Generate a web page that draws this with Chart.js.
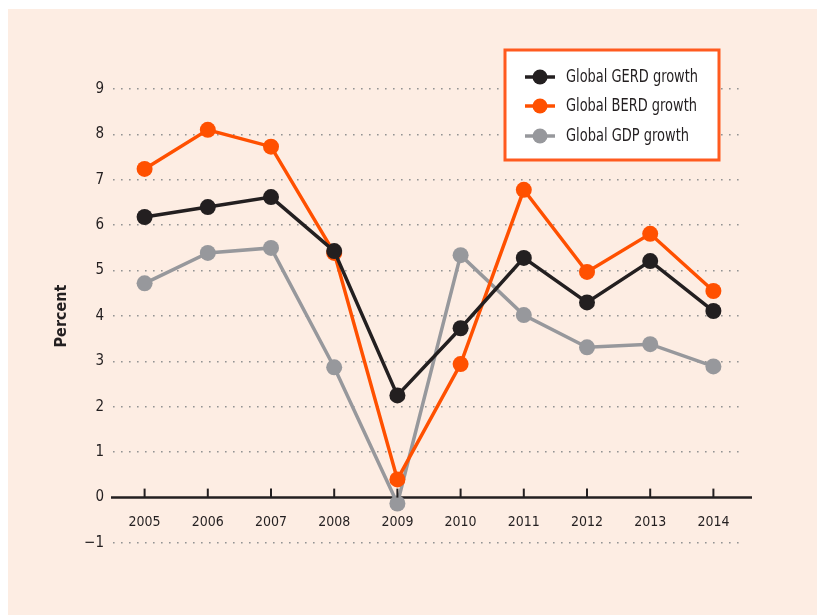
<!DOCTYPE html>
<html>
<head>
<meta charset="utf-8">
<script src="https://cdn.jsdelivr.net/npm/chart.js@4"></script>
<style>
  html, body { margin: 0; padding: 0; background: #fff; }
  #wrap { position: absolute; left: 8px; top: 9px; width: 809px; height: 606px; background: #fdede3; }
</style>
</head>
<body>
<div id="wrap"><canvas id="growthChart" width="809" height="606"></canvas></div>
<script>
const years = ['2005','2006','2007','2008','2009','2010','2011','2012','2013','2014'];
const gerd = [6.18, 6.40, 6.62, 5.43, 2.25, 3.73, 5.28, 4.30, 5.21, 4.11];
const berd = [7.24, 8.10, 7.73, 5.39, 0.40, 2.94, 6.78, 4.97, 5.81, 4.55];
const gdp  = [4.72, 5.39, 5.50, 2.87, -0.13, 5.34, 4.02, 3.31, 3.38, 2.89];

const FONT = "'Liberation Sans Narrow', 'DejaVu Sans Condensed', 'Open Sans', sans-serif";

function series(label, data, color) {
  return {
    label, data,
    borderColor: color,
    backgroundColor: color,
    borderWidth: 3.5,
    pointRadius: 8,
    pointHoverRadius: 8,
    pointBorderWidth: 0,
    tension: 0
  };
}

// x-axis tick marks pointing up, axis extension, legend box
const extras = {
  id: 'extras',
  beforeDatasetsDraw(chart) {
    const { ctx, chartArea, scales: { y } } = chart;
    const y0 = y.getPixelForValue(0);
    ctx.save();
    ctx.strokeStyle = '#231f20';
    ctx.lineWidth = 2.5;
    ctx.beginPath();
    ctx.moveTo(chartArea.left - 2, y0);
    ctx.lineTo(chartArea.right + 7, y0);
    ctx.stroke();
    ctx.restore();
  },
  afterDraw(chart) {
    const { ctx, scales: { x, y } } = chart;
    const y0 = y.getPixelForValue(0);
    ctx.save();
    ctx.strokeStyle = '#231f20';
    ctx.lineWidth = 2;
    x.ticks.forEach((t, i) => {
      const px = x.getPixelForTick(i);
      ctx.beginPath();
      ctx.moveTo(px, y0);
      ctx.lineTo(px, y0 - 9);
      ctx.stroke();
    });
    // legend
    const bx = 497, by = 41, bw = 214, bh = 110;
    ctx.fillStyle = '#fff';
    ctx.fillRect(bx, by, bw, bh);
    ctx.strokeStyle = '#ff5a1f';
    ctx.lineWidth = 3;
    ctx.strokeRect(bx, by, bw, bh);
    const rows = [68, 97, 127];
    const widths = [132, 131, 123];
    ctx.font = '17px ' + FONT;
    ctx.textBaseline = 'middle';
    chart.data.datasets.forEach((ds, i) => {
      const ry = rows[i];
      ctx.strokeStyle = ds.borderColor;
      ctx.lineWidth = 3.5;
      ctx.beginPath();
      ctx.moveTo(517, ry);
      ctx.lineTo(547, ry);
      ctx.stroke();
      ctx.fillStyle = ds.borderColor;
      ctx.beginPath();
      ctx.arc(532, ry, 7.5, 0, Math.PI * 2);
      ctx.fill();
      ctx.fillStyle = '#231f20';
      const k = widths[i] / ctx.measureText(ds.label).width;
      ctx.save();
      ctx.translate(558, ry + 1);
      ctx.scale(Math.min(k, 1), 1);
      ctx.fillText(ds.label, 0, 0);
      ctx.restore();
    });
    ctx.restore();
  }
};

new Chart(document.getElementById('growthChart'), {
  type: 'line',
  data: {
    labels: years,
    datasets: [
      series('Global GERD growth', gerd, '#231f20'),
      series('Global BERD growth', berd, '#ff5000'),
      series('Global GDP growth', gdp, '#97989c')
    ]
  },
  options: {
    responsive: false,
    animation: false,
    layout: { padding: { left: 44, right: 72, top: 80, bottom: 72 } },
    plugins: { legend: { display: false }, tooltip: { enabled: false } },
    scales: {
      x: {
        position: { y: 0 },
        offset: true,
        grid: { display: false },
        border: { display: false },
        ticks: { color: '#231f20', font: { family: FONT, size: 14 }, padding: 8 }
      },
      y: {
        min: -1, max: 9,
        afterFit: s => { s.width = 61; },
        border: { display: false, dash: [1.6, 6.4] },
        grid: {
          color: ctx => ctx.tick.value === 0 ? 'rgba(0,0,0,0)' : '#939393',
          lineWidth: 1.6,
          drawTicks: false
        },
        ticks: {
          stepSize: 1,
          color: '#231f20',
          padding: 9,
          font: { family: FONT, size: 15 },
          callback: v => String(v).replace('-', '\u2212')
        },
        title: {
          display: true,
          text: 'Percent',
          color: '#231f20',
          font: { family: FONT, size: 16, weight: 'bold' },
          padding: 0
        }
      }
    }
  },
  plugins: [extras]
});
</script>
</body>
</html>
